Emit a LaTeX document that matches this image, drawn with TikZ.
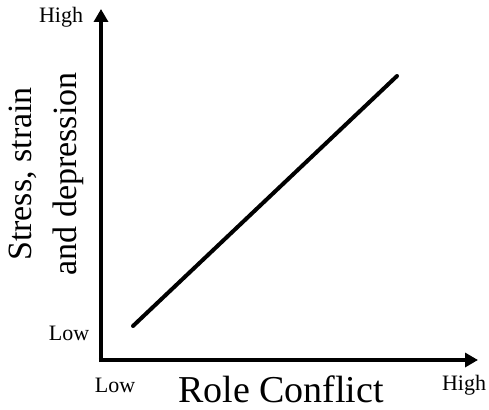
\documentclass[tikz,border=0pt]{standalone}
\usepackage{fontspec}
\setmainfont{Liberation Serif}
\usetikzlibrary{arrows.meta}
\begin{document}
\begin{tikzpicture}[x=1pt,y=-1pt,
  axis/.style={line width=4.5pt,-{Triangle[length=13pt,width=14pt]}},
  trend/.style={line width=4pt,line cap=round},
  ticklabel/.style={font=\fontsize{22}{24}\selectfont,inner sep=0pt},
  axistitle/.style={font=\fontsize{38}{44}\selectfont,inner sep=0pt}]
  \useasboundingbox (0,0) rectangle (489,409);
  % axes
  \coordinate (origin) at (101,360);
  \coordinate (ytop) at (101,9);
  \coordinate (xend) at (478,360);
  \draw[axis] ([yshift=-2.2pt]origin) -- (ytop);
  \draw[axis] ([xshift=-2.2pt]origin) -- (xend);
  % linear trend
  \coordinate (t0) at (133,326);
  \coordinate (t1) at (397,76);
  \draw[trend] (t0) -- (t1);
  % tick labels
  \node[ticklabel] (yhigh) at (61,17) {High};
  \node[ticklabel] (ylow) at (69,333) {Low};
  \node[ticklabel] (xlow) at (115,385) {Low};
  \node[ticklabel] (xhigh) at (464,385) {High};
  % axis titles
  \node[axistitle,anchor=base] (xtitle) at (281,402) {Role Conflict};
  \node[inner sep=0pt,rotate=90,align=center,
        font=\fontsize{34}{45}\selectfont] (ytitle) at (46,174)
        {Stress, strain\\and depression};
\end{tikzpicture}
\end{document}
